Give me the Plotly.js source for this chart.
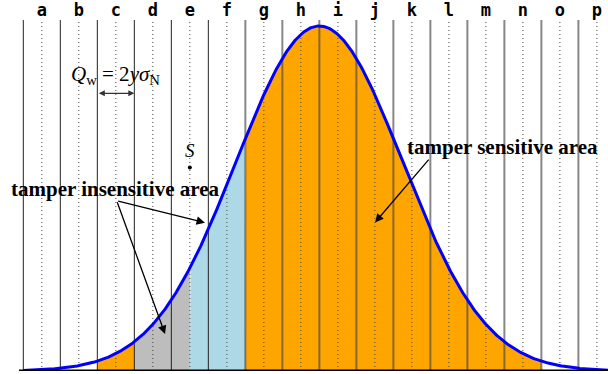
<!DOCTYPE html>
<html>
<head>
<meta charset="utf-8">
<script src="https://cdn.plot.ly/plotly-3.0.1.min.js"></script>
<style>
  html, body { margin: 0; padding: 0; background: #fff; }
  #chart { width: 608px; height: 374px; }
</style>
</head>
<body>
<div id="chart"></div>
<script>
// Column letters, centred in each column
const letters = ['a','b','c','d','e','f','g','h','i','j','k','l','m','n','o','p'];
// Column boundaries (solid) and column centres (dotted)
const boundaries = [0,1,2,3,4,5,6,7,8,9,10,11,12,13,14,15];
const centres = [0.5,1.5,2.5,3.5,4.5,5.5,6.5,7.5,8.5,9.5,10.5,11.5,12.5,13.5,14.5,15.5];
// Normal distribution parameters (in column units)
const mean = 8;
const sigma = 2.25;
// Shaded regions under the curve: [from, to, colour]
const regionStart = [2, 3, 4.5, 6];
const regionEnd   = [3, 4.5, 6, 14];
const regionColor = ['#ffa500', '#bdbdbd', '#add8e6', '#ffa500'];

const X_MIN = -0.63, X_MAX = 15.80, Y_MAX = 1.0174;

function density(x) {
  return Math.exp(-((x - mean) ** 2) / (2 * sigma * sigma));
}
function sample(a, b, step) {
  const xs = [], ys = [];
  const n = Math.max(2, Math.round((b - a) / step));
  for (let i = 0; i <= n; i++) {
    const x = a + (b - a) * i / n;
    xs.push(x); ys.push(density(x));
  }
  return {xs, ys};
}

const traces = [];

// shaded areas
for (let i = 0; i < regionStart.length; i++) {
  const s = sample(regionStart[i], regionEnd[i], 0.02);
  traces.push({
    x: [regionStart[i]].concat(s.xs, [regionEnd[i]]),
    y: [0].concat(s.ys, [0]),
    mode: 'lines', fill: 'toself', fillcolor: regionColor[i],
    line: {width: 0}, hoverinfo: 'skip', showlegend: false
  });
}

// vertical guide lines
function vlines(xs) {
  const x = [], y = [];
  xs.forEach(v => { x.push(v, v, null); y.push(0, Y_MAX, null); });
  return {x, y};
}
const darkB = vlines(boundaries.filter(v => v <= 5));
const greyB = vlines(boundaries.filter(v => v > 5));
const dots = vlines(centres);
traces.push({x: dots.x, y: dots.y, mode: 'lines',
  line: {color: '#444', width: 1, dash: '1px,3px'}, hoverinfo: 'skip', showlegend: false});
traces.push({x: darkB.x, y: darkB.y, mode: 'lines',
  line: {color: '#222', width: 1}, hoverinfo: 'skip', showlegend: false});
traces.push({x: greyB.x, y: greyB.y, mode: 'lines',
  line: {color: 'rgba(70,70,70,0.65)', width: 2}, hoverinfo: 'skip', showlegend: false});

// the bell curve
const curve = sample(0, X_MAX, 0.02);
traces.push({x: curve.xs, y: curve.ys, mode: 'lines',
  line: {color: '#0000ff', width: 3}, hoverinfo: 'skip', showlegend: false});

// the point S
traces.push({x: [4.5], y: [0.59], mode: 'markers',
  marker: {color: '#000', size: 4}, hoverinfo: 'skip', showlegend: false});

const serif = 'Liberation Serif, Times New Roman, serif';

const annotations = [
  {x: 2.5, y: 0.858, xref: 'x', yref: 'y', showarrow: false,
   text: '<i>Q</i><sub>w</sub> = 2<i>yσ</i><sub>N</sub>',
   font: {family: serif, size: 21, color: '#000'}},
  {x: 3, y: 0.805, ax: 2, ay: 0.805, xref: 'x', yref: 'y', axref: 'x', ayref: 'y',
   text: '', showarrow: true, arrowside: 'end+start', arrowhead: 2, arrowsize: 1,
   arrowwidth: 1.2, arrowcolor: '#333'},
  {x: 4.5, y: 0.64, xref: 'x', yref: 'y', showarrow: false, text: '<i>S</i>',
   font: {family: serif, size: 19, color: '#000'}},
  {x: 2.48, y: 0.528, xref: 'x', yref: 'y', showarrow: false,
   text: '<b>tamper insensitive area</b>',
   font: {family: serif, size: 21, color: '#000'}},
  {x: 12.96, y: 0.649, xref: 'x', yref: 'y', showarrow: false,
   text: '<b>tamper sensitive area</b>',
   font: {family: serif, size: 21, color: '#000'}},
  {x: 4.91, y: 0.43, ax: 2.524, ay: 0.4936, xref: 'x', yref: 'y', axref: 'x', ayref: 'y',
   text: '', showarrow: true, arrowhead: 2, arrowsize: 1.3, arrowwidth: 1.3, arrowcolor: '#000'},
  {x: 3.83, y: 0.107, ax: 2.524, ay: 0.4936, xref: 'x', yref: 'y', axref: 'x', ayref: 'y',
   text: '', showarrow: true, arrowhead: 2, arrowsize: 1.3, arrowwidth: 1.3, arrowcolor: '#000'},
  {x: 9.505, y: 0.4306, ax: 10.99, ay: 0.617, xref: 'x', yref: 'y', axref: 'x', ayref: 'y',
   text: '', showarrow: true, arrowhead: 2, arrowsize: 1.3, arrowwidth: 1.3, arrowcolor: '#000'}
];

const layout = {
  width: 608, height: 374,
  margin: {l: 0, r: 0, t: 20, b: 3, pad: 0},
  paper_bgcolor: '#fff', plot_bgcolor: '#fff',
  showlegend: false,
  xaxis: {
    range: [X_MIN, X_MAX], side: 'top', tickmode: 'array',
    tickvals: centres, ticktext: letters, ticks: '', ticklen: 0,
    showgrid: false, zeroline: false, showline: false, fixedrange: true,
    tickfont: {family: 'DejaVu Sans Mono', size: 17, color: '#000', weight: 'bold'}
  },
  yaxis: {range: [0, Y_MAX], visible: false, fixedrange: true},
  shapes: [
    {type: 'line', xref: 'x', yref: 'y', x0: -0.116, x1: X_MAX, y0: 0, y1: 0,
     line: {color: '#000', width: 3}, layer: 'above'}
  ],
  annotations: annotations
};

Plotly.newPlot('chart', traces, layout, {staticPlot: true, displayModeBar: false});
</script>
</body>
</html>
